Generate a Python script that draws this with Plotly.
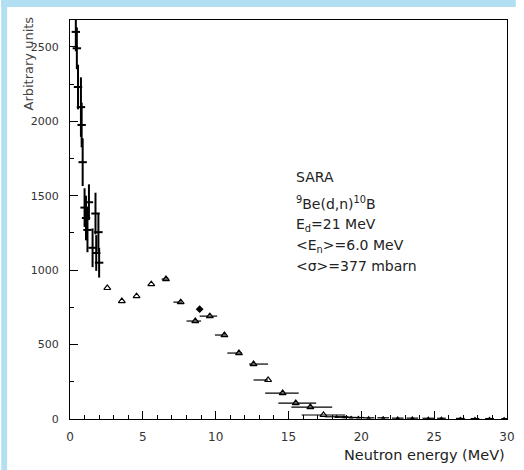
import plotly.graph_objects as go

# Low-energy points (vertical error bars)
low_e = [0.40, 0.47, 0.55, 0.75, 0.80, 0.87, 1.00, 1.10, 1.20, 1.30, 1.55, 1.75, 1.80, 1.95, 2.00]
low_v = [2600, 2490, 2230, 2095, 1975, 1725, 1420, 1350, 1270, 1456, 1150, 1380, 1115, 1255, 1050]
low_err = [130, 140, 150, 200, 150, 160, 130, 150, 150, 120, 130, 140, 120, 130, 100]

# Triangle points (horizontal error bars)
tri_e = [2.56, 3.56, 4.57, 5.58, 6.59, 7.6, 8.6, 9.6, 10.6, 11.6, 12.6, 13.6, 14.6, 15.5, 16.5, 17.4]
tri_v = [880, 792, 825, 906, 940, 785, 658, 691, 564, 443, 369, 262, 174, 107, 80, 27]
tri_xm = [0.0, 0.0, 0.0, 0.0, 0.3, 0.5, 0.6, 0.7, 0.65, 0.8, 0.3, 1.0, 1.2, 1.2, 1.3, 1.5]
tri_xp = [0.0, 0.0, 0.0, 0.0, 0.2, 0.1, 0.4, 0.5, 0.1, 0.2, 1.0, 0.0, 1.1, 1.4, 1.5, 1.5]

# Dark blob point
blob_e = [8.9]
blob_v = [738]

# High-energy tail
tail_e = [18.3, 18.8, 19.3, 19.8, 20.5, 21.5, 22.5, 23.5, 24.6, 25.5, 26.8, 27.8, 28.8, 29.8]
tail_v = [15, 12, 10, 10, 8, 8, 6, 6, 5, 5, 4, 3, 3, 2]
tail_xe = [0.8, 0.6, 0.5, 0.4, 0.4, 0.4, 0.4, 0.4, 0.4, 0.3, 0.3, 0.3, 0.3, 0.2]

x_ticks = [0, 5, 10, 15, 20, 25, 30]
y_ticks = [0, 500, 1000, 1500, 2000, 2500]

FONT = "Liberation Sans"
WIDE = "DejaVu Sans"

fig = go.Figure()
fig.add_trace(go.Scatter(
    x=low_e, y=low_v, mode="markers",
    marker=dict(symbol="line-ew", size=6, line=dict(width=2, color="black"), color="black"),
    error_y=dict(type="data", array=low_err, color="black", thickness=2, width=0),
    showlegend=False))
fig.add_trace(go.Scatter(
    x=tri_e, y=tri_v, mode="markers",
    marker=dict(symbol="triangle-up-open", size=6, color="black", line=dict(width=1.2)),
    error_x=dict(type="data", symmetric=False, array=tri_xp, arrayminus=tri_xm,
                 color="black", thickness=1.2, width=0),
    showlegend=False))
fig.add_trace(go.Scatter(
    x=blob_e, y=blob_v, mode="markers",
    marker=dict(symbol="diamond", size=6, color="black"),
    showlegend=False))
fig.add_trace(go.Scatter(
    x=tail_e, y=tail_v, mode="markers",
    marker=dict(symbol="triangle-up", size=4, color="black"),
    error_x=dict(type="data", array=tail_xe, color="black", thickness=1.2, width=0),
    showlegend=False))

fig.update_layout(
    width=524, height=470,
    margin=dict(l=70, r=9, t=20, b=51),
    paper_bgcolor="white", plot_bgcolor="white",
    font=dict(family=FONT, color="#333", size=11),
    xaxis=dict(range=[0, 30], tickvals=x_ticks, ticktext=[str(v) for v in x_ticks],
               showgrid=False, zeroline=False, showline=True, linecolor="black",
               linewidth=1.2, mirror=True, ticks="inside", ticklen=8, tickcolor="black",
               minor=dict(dtick=1, ticks="inside", ticklen=4, tickcolor="black"),
               ticklabelstandoff=6,
               tickfont=dict(size=12, color="#333", family=WIDE)),
    yaxis=dict(range=[0, 2680], tickvals=y_ticks, ticktext=[str(v) for v in y_ticks],
               showgrid=False, zeroline=False, showline=True, linecolor="black",
               linewidth=1.2, mirror=True, ticks="inside", ticklen=8, tickcolor="black",
               minor=dict(dtick=250, ticks="inside", ticklen=4, tickcolor="black"),
               ticklabelstandoff=8,
               tickfont=dict(size=11, color="#333", family=WIDE)),
)

# Axis titles
fig.add_annotation(text="Arbitrary units", xref="paper", yref="paper",
                   x=-0.095, y=1.015, xanchor="center", yanchor="top", textangle=-90,
                   showarrow=False, font=dict(size=13, color="#444", family=WIDE))
fig.add_annotation(text="Neutron energy (MeV)", xref="paper", yref="paper",
                   x=1.0, y=-0.065, xanchor="right", yanchor="top",
                   showarrow=False, font=dict(size=14.5, color="#222", family=WIDE))

# Info text
info = ["SARA", "<sup>9</sup>Be(d,n)<sup>10</sup>B", "E<sub>d</sub>=21 MeV",
        "&lt;E<sub>n</sub>&gt;=6.0 MeV", "&lt;σ&gt;=377 mbarn"]
info_y = [177, 203, 225, 246, 266]
for t, py in zip(info, info_y):
    fig.add_annotation(text=t, xref="paper", yref="paper",
                       x=(298 - 70) / 445, y=(419 - py) / 399,
                       xanchor="left", yanchor="middle", showarrow=False,
                       font=dict(size=14, color="#222", family=WIDE))

# Light-blue scan border (left and top)
fig.add_shape(type="rect", xref="paper", yref="paper",
              x0=-70 / 445, x1=-64 / 445, y0=-51 / 399, y1=419 / 399,
              fillcolor="#b3dff2", line=dict(width=0), layer="below")
fig.add_shape(type="rect", xref="paper", yref="paper",
              x0=-70 / 445, x1=454 / 445, y0=412 / 399, y1=419 / 399,
              fillcolor="#b3dff2", line=dict(width=0), layer="below")

fig.write_html("out.html")
